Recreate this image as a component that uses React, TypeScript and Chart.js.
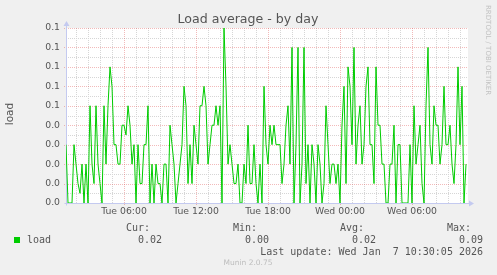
import React, { useEffect, useRef } from "react";
import { Chart, registerables } from "chart.js";

Chart.register(...registerables);

// Time axis in hours since Tue 00:00; samples every 10 minutes
const startHour = 1 + 10 / 60; // Tue 01:10
const stepHours = 10 / 60;
const xMin = startHour;
const xMax = 34 + 40 / 60; // Wed 10:40

const loads = [
  0.03, 0.0, 0.0, 0.0, 0.03, 0.02, 0.01, 0.005, 0.02, 0.0,
  0.02, 0.0, 0.05, 0.02, 0.01, 0.05, 0.02, 0.01, 0.0, 0.05,
  0.02, 0.05, 0.07, 0.06, 0.03, 0.03, 0.02, 0.02, 0.04, 0.04,
  0.035, 0.05, 0.04, 0.02, 0.03, 0.0, 0.03, 0.01, 0.01, 0.03,
  0.03, 0.05, 0.0, 0.02, 0.0, 0.02, 0.01, 0.01, 0.0, 0.02,
  0.02, 0.0, 0.04, 0.03, 0.02, 0.0, 0.01, 0.02, 0.03, 0.06,
  0.05, 0.01, 0.03, 0.01, 0.04, 0.03, 0.02, 0.05, 0.05, 0.06,
  0.05, 0.02, 0.03, 0.04, 0.04, 0.05, 0.04, 0.05, 0.0, 0.09,
  0.06, 0.02, 0.03, 0.02, 0.01, 0.01, 0.02, 0.0, 0.0, 0.02,
  0.01, 0.04, 0.01, 0.01, 0.03, 0.01, 0.0, 0.02, 0.0, 0.06,
  0.03, 0.02, 0.04, 0.03, 0.04, 0.03, 0.03, 0.03, 0.01, 0.02,
  0.04, 0.05, 0.02, 0.08, 0.0, 0.03, 0.08, 0.0, 0.02, 0.08,
  0.01, 0.03, 0.0, 0.03, 0.02, 0.0, 0.03, 0.02, 0.0, 0.01,
  0.05, 0.03, 0.01, 0.02, 0.02, 0.01, 0.02, 0.0, 0.04, 0.06,
  0.01, 0.07, 0.06, 0.03, 0.08, 0.02, 0.04, 0.05, 0.02, 0.03,
  0.06, 0.07, 0.03, 0.03, 0.01, 0.07, 0.04, 0.04, 0.02, 0.02,
  0.0, 0.0, 0.02, 0.02, 0.04, 0.0, 0.03, 0.03, 0.0, 0.0,
  0.0, 0.0, 0.03, 0.0, 0.05, 0.02, 0.03, 0.04, 0.01, 0.0,
  0.05, 0.08, 0.03, 0.02, 0.05, 0.04, 0.04, 0.02, 0.03, 0.06,
  0.03, 0.03, 0.04, 0.02, 0.01, 0.03, 0.07, 0.03, 0.06, 0.0,
  0.02,
];

const yMajorValues = [0, 0.01, 0.02, 0.03, 0.04, 0.05, 0.06, 0.07, 0.08, 0.09];
const yTickLabels = ["0.0", "0.0", "0.0", "0.0", "0.0", "0.1", "0.1", "0.1", "0.1", "0.1"];
const xMajorHours = [6, 12, 18, 24, 30];
const xTickLabels = ["Tue 06:00", "Tue 12:00", "Tue 18:00", "Wed 00:00", "Wed 06:00"];

const titleText = "Load average - by day";
const yAxisTitle = "load";
const seriesName = "load";
const statLabels = ["Cur:", "Min:", "Avg:", "Max:"];
const statValues = ["0.02", "0.00", "0.02", "0.09"];
const lastUpdate = "Last update: Wed Jan  7 10:30:05 2026";
const footer = "Munin 2.0.75";
const watermark = "RRDTOOL / TOBI OETIKER";

const LINE_COLOR = "#00cc00";
const TEXT = "#555555";

const decorPlugin = {
  id: "muninDecor",
  beforeDraw(chart: any) {
    const { ctx, chartArea } = chart;
    ctx.save();
    ctx.fillStyle = "#f0f0f0";
    ctx.fillRect(0, 0, chart.width, chart.height);
    ctx.fillStyle = "#ffffff";
    ctx.fillRect(chartArea.left, chartArea.top, chartArea.right - chartArea.left, chartArea.bottom - chartArea.top);
    ctx.restore();
  },
  beforeDatasetsDraw(chart: any) {
    const { ctx, chartArea, scales } = chart;
    const xs = scales.x;
    const ys = scales.y;
    ctx.save();
    ctx.lineWidth = 1;
    ctx.setLineDash([1, 1]);
    // minor grid
    ctx.strokeStyle = "#d6d6d6";
    for (let h = Math.ceil(xMin); h <= xMax; h++) {
      if (xMajorHours.includes(h)) continue;
      const px = Math.round(xs.getPixelForValue(h)) + 0.5;
      ctx.beginPath();
      ctx.moveTo(px, chartArea.top);
      ctx.lineTo(px, chartArea.bottom);
      ctx.stroke();
    }
    for (let i = 0; i < yMajorValues.length - 1; i++) {
      const v = (yMajorValues[i] + yMajorValues[i + 1]) / 2;
      const py = Math.round(ys.getPixelForValue(v)) + 0.5;
      ctx.beginPath();
      ctx.moveTo(chartArea.left, py);
      ctx.lineTo(chartArea.right, py);
      ctx.stroke();
    }
    // major grid
    ctx.strokeStyle = "rgba(225,90,90,0.42)";
    for (const h of xMajorHours) {
      const px = Math.round(xs.getPixelForValue(h)) + 0.5;
      ctx.beginPath();
      ctx.moveTo(px, chartArea.top);
      ctx.lineTo(px, chartArea.bottom + 2);
      ctx.stroke();
    }
    for (const v of yMajorValues) {
      if (v === 0) continue;
      const py = Math.round(ys.getPixelForValue(v)) + 0.5;
      ctx.beginPath();
      ctx.moveTo(chartArea.left - 2, py);
      ctx.lineTo(chartArea.right, py);
      ctx.stroke();
    }
    ctx.setLineDash([]);
    // axes with arrows
    const ax = Math.round(chartArea.left) + 0.5;
    const ay = Math.round(ys.getPixelForValue(0)) + 0.5;
    ctx.strokeStyle = "#c4caf0";
    ctx.fillStyle = "#c4caf0";
    ctx.beginPath();
    ctx.moveTo(ax, ay + 2);
    ctx.lineTo(ax, chartArea.top - 4);
    ctx.moveTo(ax - 2, ay);
    ctx.lineTo(chartArea.right + 2, ay);
    ctx.stroke();
    ctx.beginPath();
    ctx.moveTo(ax, chartArea.top - 7);
    ctx.lineTo(ax - 3, chartArea.top - 2);
    ctx.lineTo(ax + 3, chartArea.top - 2);
    ctx.closePath();
    ctx.fill();
    ctx.beginPath();
    ctx.moveTo(chartArea.right + 6, ay);
    ctx.lineTo(chartArea.right + 1, ay - 3);
    ctx.lineTo(chartArea.right + 1, ay + 3);
    ctx.closePath();
    ctx.fill();
    ctx.restore();
  },
  afterDraw(chart: any) {
    const { ctx } = chart;
    ctx.save();
    // title
    ctx.fillStyle = TEXT;
    ctx.font = '12.6px "DejaVu Sans"';
    ctx.textAlign = "center";
    ctx.textBaseline = "alphabetic";
    ctx.fillText(titleText, 248, 23);
    // y title
    ctx.save();
    ctx.translate(10.5, 114);
    ctx.rotate(-Math.PI / 2);
    ctx.font = '10.5px "DejaVu Sans"';
    ctx.textBaseline = "middle";
    ctx.fillText(yAxisTitle, 0, 0);
    ctx.restore();
    // watermark
    ctx.save();
    ctx.translate(488, 5);
    ctx.rotate(Math.PI / 2);
    ctx.font = '7px "DejaVu Sans"';
    ctx.fillStyle = "#c2c2c2";
    ctx.textAlign = "left";
    ctx.textBaseline = "middle";
    ctx.fillText(watermark, 0, 0);
    ctx.restore();
    // legend
    ctx.font = '10px "DejaVu Sans Mono"';
    ctx.fillStyle = TEXT;
    ctx.textBaseline = "middle";
    const statRight = [162, 269, 376, 483];
    ctx.textAlign = "right";
    statLabels.forEach((l, i) => ctx.fillText(l, statRight[i] - 12, 228));
    statValues.forEach((v, i) => ctx.fillText(v, statRight[i], 240));
    ctx.fillText(lastUpdate, 483, 252);
    ctx.textAlign = "left";
    ctx.fillText(seriesName, 27, 240);
    ctx.fillStyle = LINE_COLOR;
    ctx.fillRect(14, 237, 6, 6);
    // footer
    ctx.font = '7.5px "DejaVu Sans"';
    ctx.fillStyle = "#bdbdbd";
    ctx.textAlign = "center";
    ctx.fillText(footer, 248, 263);
    ctx.restore();
  },
};

export default function App() {
  const ref = useRef<HTMLCanvasElement | null>(null);
  useEffect(() => {
    if (!ref.current) return;
    const data = loads.map((v, i) => ({ x: startHour + i * stepHours, y: v }));
    const chart = new Chart(ref.current, {
      type: "line",
      data: {
        datasets: [
          {
            label: seriesName,
            data,
            borderColor: LINE_COLOR,
            borderWidth: 1,
            pointRadius: 0,
            tension: 0,
            fill: false,
          },
        ],
      },
      options: {
        animation: false,
        responsive: false,
        devicePixelRatio: 1,
        events: [],
        layout: { padding: { left: 0, right: 29, top: 28, bottom: 0 } },
        plugins: { legend: { display: false }, title: { display: false }, tooltip: { enabled: false } },
        scales: {
          x: {
            type: "linear",
            min: xMin,
            max: xMax,
            grid: { display: false, drawTicks: false },
            border: { display: false },
            afterBuildTicks: (s: any) => {
              s.ticks = xMajorHours.map((v) => ({ value: v }));
            },
            afterFit: (s: any) => {
              s.height = 72;
            },
            ticks: {
              autoSkip: false,
              maxRotation: 0,
              padding: 3,
              color: TEXT,
              font: { family: '"DejaVu Sans"', size: 9.3 },
              callback: (_v: any, i: number) => xTickLabels[i],
            },
          },
          y: {
            type: "linear",
            min: 0,
            max: 0.09,
            grid: { display: false, drawTicks: false },
            border: { display: false },
            afterBuildTicks: (s: any) => {
              s.ticks = yMajorValues.map((v) => ({ value: v }));
            },
            afterFit: (s: any) => {
              s.width = 66;
            },
            ticks: {
              autoSkip: false,
              padding: 6,
              color: TEXT,
              font: { family: '"DejaVu Sans"', size: 9.3 },
              callback: (_v: any, i: number) => yTickLabels[i],
            },
          },
        },
      },
      plugins: [decorPlugin],
    });
    return () => chart.destroy();
  }, []);
  return (
    <canvas
      ref={ref}
      width={497}
      height={275}
      style={{ position: "absolute", left: 0, top: 0, width: 497, height: 275 }}
    />
  );
}
